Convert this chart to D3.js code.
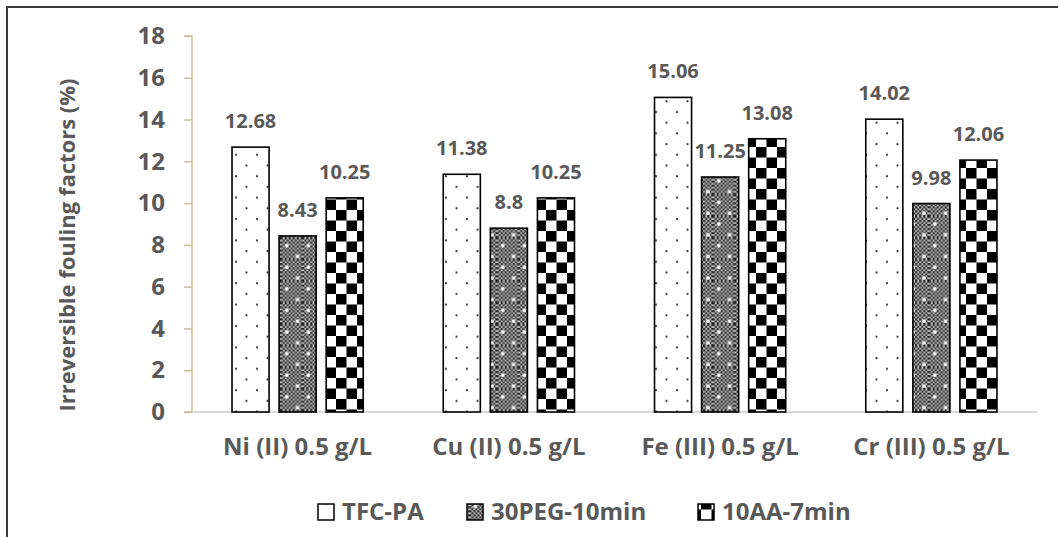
<!DOCTYPE html>
<html>
<head>
<meta charset="utf-8">
<script src="https://cdn.jsdelivr.net/npm/d3@7.9.0/dist/d3.min.js"></script>
<style>
  html, body { margin: 0; padding: 0; background: #fff; }
  svg { display: block; }
  text { font-family: 'Open Sans', sans-serif; font-weight: bold; fill: #595959; }
</style>
</head>
<body>
<div id="chart"></div>
<script>
// chart data
const categories = ['Ni (II) 0.5 g/L', 'Cu (II) 0.5 g/L', 'Fe (III) 0.5 g/L', 'Cr (III) 0.5 g/L'];
const seriesNames = ['TFC-PA', '30PEG-10min', '10AA-7min'];
const tfcPa = [12.68, 11.38, 15.06, 14.02];
const peg10 = [8.43, 8.8, 11.25, 9.98];
const aa7 = [10.25, 10.25, 13.08, 12.06];
const yTicks = [0, 2, 4, 6, 8, 10, 12, 14, 16, 18];

const width = 1058;
const height = 537;
const plot = { left: 192, right: 1037, top: 36, bottom: 412 };
const bigFont = 24;

const seriesValues = [tfcPa, peg10, aa7];
const patternIds = ['pat-dots', 'pat-fine', 'pat-check'];

const rows = [];
categories.forEach((c, i) => {
  seriesNames.forEach((s, j) => {
    rows.push({ category: c, series: s, value: seriesValues[j][i], pattern: patternIds[j] });
  });
});

const svg = d3.select('#chart')
  .append('svg')
  .attr('width', width)
  .attr('height', height);

// --- patterns ---
const defs = svg.append('defs');

const dots = defs.append('pattern')
  .attr('id', 'pat-dots')
  .attr('patternUnits', 'userSpaceOnUse')
  .attr('width', 21).attr('height', 21.4);
dots.append('rect').attr('width', 21).attr('height', 21.4).attr('fill', '#fff');
[[5, 5], [15.5, 15.7]].forEach(([cx, cy]) => {
  dots.append('circle').attr('cx', cx).attr('cy', cy).attr('r', 1.1).attr('fill', '#333');
});

const fineBase = defs.append('pattern')
  .attr('id', 'pat-fine-base')
  .attr('patternUnits', 'userSpaceOnUse')
  .attr('width', 4).attr('height', 4);
fineBase.append('rect').attr('width', 4).attr('height', 4).attr('fill', '#c8c8c8');
fineBase.append('rect').attr('width', 2).attr('height', 2).attr('fill', '#1a1a1a');
fineBase.append('rect').attr('x', 2).attr('y', 2).attr('width', 2).attr('height', 2).attr('fill', '#1a1a1a');

const fine = defs.append('pattern')
  .attr('id', 'pat-fine')
  .attr('patternUnits', 'userSpaceOnUse')
  .attr('width', 21.6).attr('height', 21.6);
fine.append('rect').attr('width', 21.6).attr('height', 21.6).attr('fill', 'url(#pat-fine-base)');
[[6, 8], [16.8, 18.8]].forEach(([cx, cy]) => {
  fine.append('circle').attr('cx', cx).attr('cy', cy).attr('r', 1.8).attr('fill', '#fff');
});

const check = defs.append('pattern')
  .attr('id', 'pat-check')
  .attr('patternUnits', 'userSpaceOnUse')
  .attr('width', 21).attr('height', 21);
check.append('rect').attr('width', 21).attr('height', 21).attr('fill', '#fff');
check.append('rect').attr('width', 10.5).attr('height', 10.5).attr('fill', '#000');
check.append('rect').attr('x', 10.5).attr('y', 10.5).attr('width', 10.5).attr('height', 10.5).attr('fill', '#000');

// outer frame
svg.append('path')
  .attr('d', `M7,${height} V7 H${width}`)
  .attr('fill', 'none')
  .attr('stroke', '#3a3a3a')
  .attr('stroke-width', 2);

// --- scales ---
const x0 = d3.scaleBand()
  .domain(categories)
  .range([plot.left, plot.right]);

const x1 = d3.scaleBand()
  .domain(seriesNames)
  .range([0, x0.bandwidth()])
  .paddingInner(0.213)
  .paddingOuter(0.85);

const y = d3.scaleLinear()
  .domain([0, 18])
  .range([plot.bottom, plot.top]);

// y axis
const yAxis = svg.append('g')
  .attr('transform', `translate(${plot.left},0)`)
  .call(d3.axisLeft(y).tickValues(yTicks).tickSize(8).tickPadding(19));
yAxis.select('.domain').attr('stroke', '#c8c09c').attr('stroke-width', 1.5).attr('d', `M-8,${y(18)}H0V${y(0)}H-8`);
yAxis.selectAll('.tick line').attr('stroke', '#c8c09c').attr('stroke-width', 1.5);
yAxis.selectAll('.tick text')
  .attr('font-size', bigFont)
  .attr('fill', '#595959')
  .attr('font-family', "'Open Sans', sans-serif")
  .attr('font-weight', 'bold');

// baseline
svg.append('line')
  .attr('x1', plot.left).attr('x2', plot.right)
  .attr('y1', y(0)).attr('y2', y(0))
  .attr('stroke', '#d9d9d9')
  .attr('stroke-width', 2);

// bars
const bars = svg.append('g').attr('class', 'bars');
bars.selectAll('rect')
  .data(rows)
  .join('rect')
  .attr('x', d => x0(d.category) + x1(d.series))
  .attr('y', d => y(d.value))
  .attr('width', x1.bandwidth())
  .attr('height', d => y(0) - y(d.value))
  .attr('fill', d => `url(#${d.pattern})`)
  .attr('stroke', '#000')
  .attr('stroke-width', 1.6);

// value labels
svg.append('g')
  .selectAll('text')
  .data(rows)
  .join('text')
  .attr('x', d => x0(d.category) + x1(d.series) + x1.bandwidth() / 2)
  .attr('y', d => y(d.value) - 19)
  .attr('text-anchor', 'middle')
  .attr('font-size', 20)
  .text(d => d.value);

// category labels
svg.append('g')
  .selectAll('text')
  .data(categories)
  .join('text')
  .attr('x', d => x0(d) + x0.bandwidth() / 2)
  .attr('y', 455)
  .attr('text-anchor', 'middle')
  .attr('font-size', bigFont)
  .text(d => d);

// y title
svg.append('text')
  .attr('transform', 'translate(75,245) rotate(-90)')
  .attr('text-anchor', 'middle')
  .attr('font-size', 22)
  .text('Irreversible fouling factors (%)');

// legend
const legendX = [342, 491, 722];
const legend = svg.append('g').attr('class', 'legend');
const item = legend.selectAll('g')
  .data(seriesNames)
  .join('g')
  .attr('transform', (d, i) => `translate(${legendX[i]},520)`);
item.append('rect')
  .attr('x', -24).attr('y', -16)
  .attr('width', 16).attr('height', 16)
  .attr('fill', (d, i) => `url(#${patternIds[i]})`)
  .attr('stroke', '#000')
  .attr('stroke-width', 1.5);
item.append('text')
  .attr('x', 0).attr('y', 0)
  .attr('font-size', bigFont)
  .text(d => d);
</script>
</body>
</html>
